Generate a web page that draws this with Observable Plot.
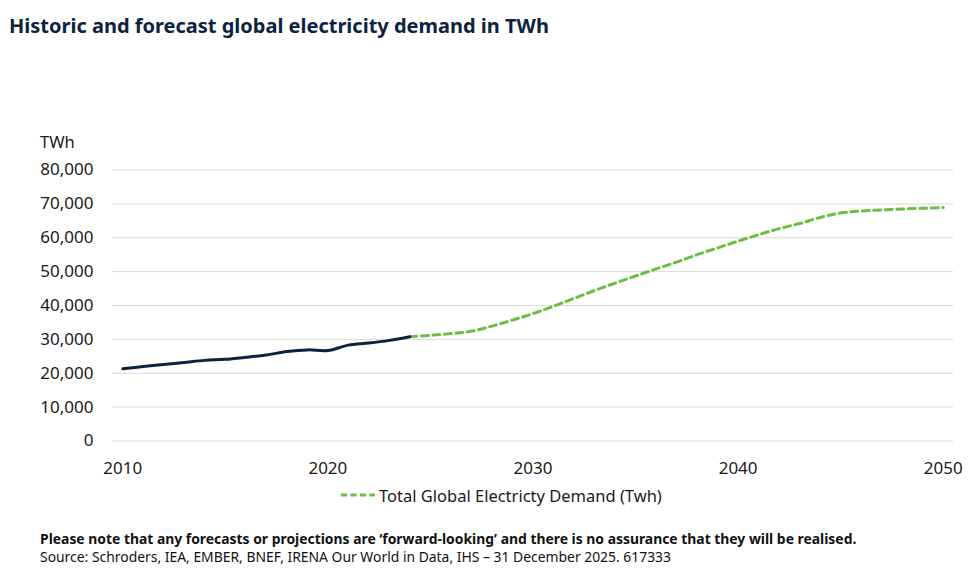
<!DOCTYPE html>
<html>
<head>
<meta charset="utf-8">
<script src="https://cdn.jsdelivr.net/npm/d3@7"></script>
<script src="https://cdn.jsdelivr.net/npm/@observablehq/plot@0.6"></script>
<style>
  body { margin: 0; background: #fff; font-family: "Noto Sans", sans-serif; }
  #wrap { position: relative; width: 970px; height: 584px; overflow: hidden; background: #fff; }
  #title { position: absolute; left: 9px; top: 13px; font-size: 20px; line-height: 26px; font-weight: 700; color: #0c2340; white-space: nowrap; }
  #unit { position: absolute; left: 40px; top: 131px; font-size: 16.5px; line-height: 22px; color: #1a1a1a; }
  #chart { position: absolute; left: 0; top: 130px; }
  #legend { position: absolute; left: 341px; top: 484px; height: 22px; display: flex; align-items: center; font-size: 16.5px; color: #1a1a1a; white-space: nowrap; }
  #legend svg { margin-right: 4px; }
  #note { position: absolute; left: 40px; top: 530px; font-size: 13.9px; line-height: 18px; color: #111; white-space: nowrap; }
  #note b { font-weight: 700; }
</style>
</head>
<body>
<div id="wrap">
  <div id="title">Historic and forecast global electricity demand in TWh</div>
  <div id="unit">TWh</div>
  <div id="chart"></div>
  <div id="legend"><svg width="34" height="10"><line x1="0" y1="5" x2="34" y2="5" stroke="#6dbd45" stroke-width="3" stroke-dasharray="6,3.5"></line></svg><span id="legendText"></span></div>
  <div id="note"><b>Please note that any forecasts or projections are ‘forward-looking’ and there is no assurance that they will be realised.</b><br>Source: Schroders, IEA, EMBER, BNEF, IRENA Our World in Data, IHS – 31 December 2025. 617333</div>
</div>
<script>
// ---- data ----
const historicYears = [2010, 2011, 2012, 2013, 2014, 2015, 2016, 2017, 2018, 2019, 2020, 2021, 2022, 2023, 2024];
const historicValues = [21300, 22000, 22600, 23200, 23800, 24100, 24700, 25400, 26400, 26900, 26700, 28300, 28900, 29700, 30800];
const forecastYears = [2024, 2025, 2026, 2027, 2028, 2029, 2030, 2031, 2032, 2033, 2034, 2035, 2036, 2037, 2038, 2039, 2040, 2041, 2042, 2043, 2044, 2045, 2046, 2047, 2048, 2049, 2050];
const forecastValues = [30800, 31200, 31700, 32400, 33900, 35700, 37600, 39800, 42100, 44400, 46600, 48700, 50800, 52800, 55000, 57000, 59000, 60900, 62700, 64200, 66000, 67300, 67900, 68200, 68500, 68700, 68900];
const yTicks = [0, 10000, 20000, 30000, 40000, 50000, 60000, 70000, 80000];
const xTicks = [2010, 2020, 2030, 2040, 2050];
const seriesLabel = "Total Global Electricty Demand (Twh)";

const historic = historicYears.map((year, i) => ({year, value: historicValues[i]}));
const forecast = forecastYears.map((year, i) => ({year, value: forecastValues[i]}));

document.getElementById("legendText").textContent = seriesLabel;

const chart = Plot.plot({
  width: 970,
  height: 350,
  marginTop: 39.5,
  marginBottom: 39.5,
  marginLeft: 112,
  marginRight: 17,
  style: { fontFamily: "Noto Sans", fontSize: "17px", color: "#1a1a1a", background: "transparent" },
  x: { domain: [2009.5, 2050.5] },
  y: { domain: [0, 80000] },
  marks: [
    Plot.ruleY(yTicks, { stroke: "#d9d9d9", strokeWidth: 1 }),
    Plot.line(forecast, { x: "year", y: "value", stroke: "#6dbd45", strokeWidth: 3, strokeDasharray: "7,4.5", curve: "catmull-rom" }),
    Plot.line(historic, { x: "year", y: "value", stroke: "#0c2340", strokeWidth: 3, curve: "catmull-rom" }),
    Plot.axisX({ ticks: xTicks, tickFormat: d => String(d), tickSize: 0, tickPadding: 21, label: null, fontSize: 17 }),
    Plot.axisY({ ticks: yTicks, tickFormat: d3.format(","), tickSize: 0, tickPadding: 19, label: null, fontSize: 17 })
  ]
});
document.getElementById("chart").appendChild(chart);
</script>
</body>
</html>
